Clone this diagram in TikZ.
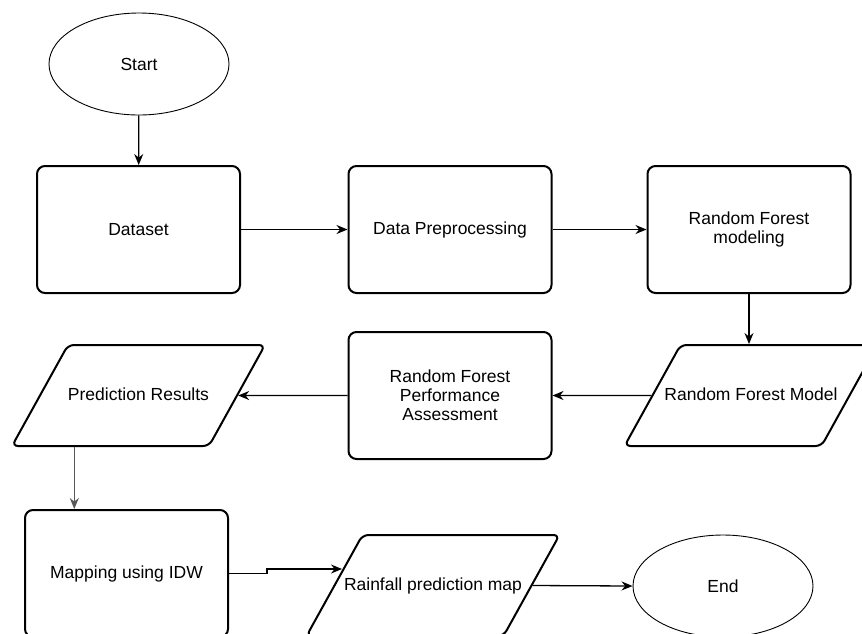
\documentclass[tikz,border=0pt]{standalone}
\usepackage{fontspec}
\setmainfont{Liberation Sans}
\usetikzlibrary{shapes.geometric,arrows.meta,calc}

% label of a data shape, allowed to run past the slanted sides
\newcommand{\iolabel}[1]{\makebox[0pt]{#1}}

\tikzset{
  txt/.style={font=\fontsize{17.5pt}{19pt}\selectfont, align=center},
  box/.style={txt, draw, line width=2pt, rounded corners=8pt, minimum width=203pt, minimum height=127pt},
  io/.style={txt, draw, line width=2pt, rounded corners=6pt, trapezium, trapezium left angle=61,
    trapezium right angle=119, trapezium stretches body=true, minimum width=253pt,
    text height=13pt, text depth=4pt, inner ysep=42pt},
  term/.style={txt, draw, ellipse, line width=0.9pt, minimum width=180pt, minimum height=102pt},
  arr/.style={-{Stealth[length=11pt,width=9pt]}, line width=1.3pt},
}

\begin{document}
\begin{tikzpicture}[x=1pt, y=-1pt]
        % frame of the picture
        \useasboundingbox (0,0) rectangle (862,633);
        \clip (0,0) rectangle (862,633);

        % start and first row
        \node[term] (start) at (139,64) {Start};
        \node[box] (data) at (138.5,229.5) {Dataset};
        \node[box] (prep) at (450,229.5) {Data Preprocessing};
        \node[box] (rfm) at (749,229.5) {Random Forest\\modeling};

        % second row
        \node[io] (model) at (751,395.5) {\iolabel{Random Forest Model}};
        \node[box] (assess) at (450,395.5) {Random Forest\\Performance\\Assessment};
        \node[io] (pred) at (138.5,395.5) {\iolabel{Prediction Results}};

        % last row
        \node[box] (map) at (126.5,573.5) {Mapping using IDW};
        \node[io] (rain) at (433,585.5) {\iolabel{Rainfall prediction map}};
        \node[term] (finish) at (723,586) {End};

        % connectors
        \draw[arr] (start) -- (data);
        \draw[arr] (data) -- (prep);
        \draw[arr] (prep) -- (rfm);
        \draw[arr] (rfm.south) -- (rfm.south |- model.north);
        \draw[arr] (model.west) -- (assess.east);
        \draw[arr] (assess.west) -- (pred.east);

        \coordinate (predout) at ($(pred.bottom left corner)+(64,0)$);
        \draw[arr, draw=black!65] (predout) -- (predout |- map.north);

        \coordinate (rainin) at (342,569);
        \draw[arr] (map.east) -- ++(38,0) |- (rainin);
        \draw[arr] (rain.east) -- (finish.west);
\end{tikzpicture}
\end{document}
